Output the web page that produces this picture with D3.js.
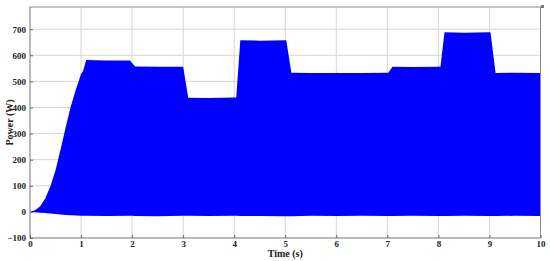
<!DOCTYPE html>
<html>
<head>
<meta charset="utf-8">
<script src="https://cdn.jsdelivr.net/npm/d3@7"></script>
<style>
html,body{margin:0;padding:0;background:#fff;}
svg{display:block;}
text{font-family:"Liberation Serif","Times New Roman",serif;font-weight:bold;fill:#222;}
</style>
</head>
<body>
<svg id="chart" width="550" height="261"></svg>
<script>
// Upper envelope of the power signal (W) vs time (s)
const upperTime  = [0, 0.1, 0.2, 0.3, 0.4, 0.5, 0.6, 0.7, 0.8, 0.9, 1.0, 1.04, 1.1, 1.5, 1.96, 2.06, 2.5, 3.0, 3.1, 3.5, 4.04, 4.12, 4.5, 5.02, 5.12, 6.0, 7.02, 7.1, 7.5, 8.04, 8.12, 8.5, 9.02, 9.12, 9.5, 10.0];
const upperPower = [0, 6, 22, 52, 98, 160, 240, 325, 405, 470, 528, 540, 582, 580, 580, 557, 556, 556, 437, 436, 438, 658, 656, 658, 533, 532, 533, 556, 555, 556, 688, 686, 688, 532, 533, 532];
// Lower envelope
const lowerTime  = [0, 0.2, 0.4, 0.6, 0.8, 1.0, 1.5, 2.0, 2.5, 3.0, 3.5, 4.0, 4.5, 5.0, 5.5, 6.0, 6.5, 7.0, 7.5, 8.0, 8.5, 9.0, 9.5, 10.0];
const lowerPower = [0, -3, -6, -10, -13, -15, -16, -15, -17, -15, -16, -15, -16, -17, -15, -16, -15, -16, -15, -16, -15, -16, -15, -16];
const xTicks = [0,1,2,3,4,5,6,7,8,9,10];
const yTicks = [-100,0,100,200,300,400,500,600,700];

const svg = d3.select("#chart");
const L = 30, R = 540.5, T = 7, B = 238;
const x = d3.scaleLinear().domain([0,10]).range([L, R]);
const y = d3.scaleLinear().domain([-100,785]).range([B, T]);

// grid
const g = svg.append("g");
g.selectAll("line.vx").data(xTicks).enter().append("line")
  .attr("x1", d=>x(d)).attr("x2", d=>x(d)).attr("y1", T).attr("y2", B)
  .attr("stroke", "#d6d6d6").attr("stroke-width", 1);
g.selectAll("line.hy").data(yTicks).enter().append("line")
  .attr("x1", L).attr("x2", R).attr("y1", d=>y(d)).attr("y2", d=>y(d))
  .attr("stroke", "#d6d6d6").attr("stroke-width", 1);

// build envelope band
const allT = Array.from(new Set(upperTime.concat(lowerTime))).sort((a,b)=>a-b);
const interpU = d3.scaleLinear().domain(upperTime).range(upperPower);
const interpL = d3.scaleLinear().domain(lowerTime).range(lowerPower);
const band = allT.map(t => ({t, hi: interpU(t), lo: interpL(t)}));
const area = d3.area().x(d=>x(d.t)).y0(d=>y(d.lo)).y1(d=>y(d.hi));
svg.append("path").datum(band).attr("d", area).attr("fill", "#0000ff");

// frame
svg.append("rect").attr("x", L).attr("y", T).attr("width", R-L).attr("height", B-T)
  .attr("fill", "none").attr("stroke", "#8a8a8a").attr("stroke-width", 1);

// axes
const xAxis = d3.axisBottom(x).tickValues(xTicks).tickSize(-3).tickPadding(4).tickFormat(d3.format("d"));
const gx = svg.append("g").attr("transform", `translate(0,${B})`).call(xAxis);
gx.select(".domain").remove();
gx.selectAll(".tick line").attr("stroke", "#666");
gx.selectAll("text").attr("font-size", 9).attr("dy", "0.55em");

const yAxis = d3.axisLeft(y).tickValues(yTicks).tickSize(-3).tickPadding(4).tickFormat(d => d < 0 ? "\u2212" + Math.abs(d) : d);
const gy = svg.append("g").attr("transform", `translate(${L},0)`).call(yAxis);
gy.select(".domain").remove();
gy.selectAll(".tick line").attr("stroke", "#666");
gy.selectAll("text").attr("font-size", 9);

svg.selectAll(".tick text").style("font-family", "'Liberation Serif','Times New Roman',serif").style("font-weight", "bold").attr("fill", "#222");

// titles
svg.append("text").attr("x", (L+R)/2).attr("y", 257).attr("text-anchor", "middle")
  .attr("font-size", 10).text("Time (s)");
svg.append("text").attr("transform", `translate(13,${(T+B)/2}) rotate(-90)`).attr("text-anchor", "middle")
  .attr("font-size", 10).text("Power (W)");

// tiny corner mark
svg.append("rect").attr("x", R+0.5).attr("y", 5).attr("width", 3).attr("height", 3).attr("fill", "#777");
</script>
</body>
</html>
